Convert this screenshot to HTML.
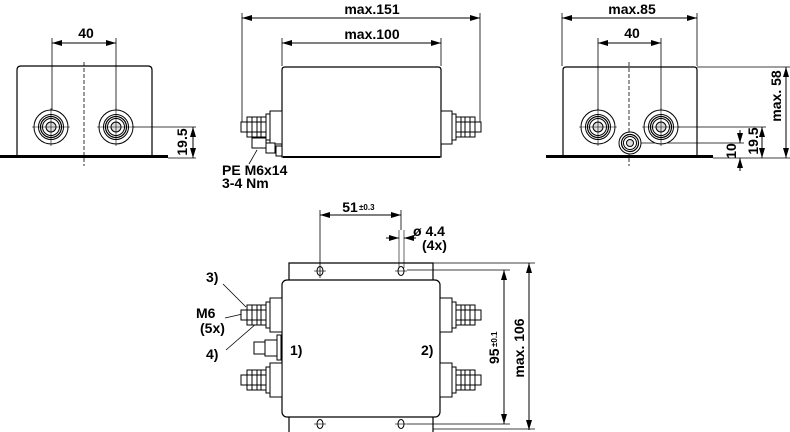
<!DOCTYPE html>
<html><head><meta charset="utf-8"><style>
html,body{margin:0;padding:0;background:#fff;}
svg{display:block;}
text{font-family:"Liberation Sans",Arial,sans-serif;font-weight:bold;fill:#000;}
</style></head><body>
<svg width="790" height="432" viewBox="0 0 790 432" xmlns="http://www.w3.org/2000/svg">
<defs>
<marker id="a" viewBox="0 0 10 6" refX="10" refY="3" markerWidth="10" markerHeight="6" orient="auto-start-reverse" markerUnits="userSpaceOnUse"><path d="M0,0 L10,3 L0,6 z" fill="#000"/></marker>
<g id="term">
<circle r="17" fill="#fff" stroke="#000" stroke-width="1"/>
<circle r="12.5" fill="none" stroke="#000" stroke-width="1"/>
<circle r="10.5" fill="none" stroke="#000" stroke-width="1.2"/>
<circle r="8.5" fill="none" stroke="#000" stroke-width="1"/>
<circle r="5" fill="#ddd" stroke="#000" stroke-width="1"/>
</g>
<g id="sterm">
<circle r="11" fill="#fff" stroke="#000" stroke-width="1"/>
<circle r="8.5" fill="none" stroke="#000" stroke-width="1.2"/>
<circle r="6.5" fill="none" stroke="#000" stroke-width="1"/>
<circle r="3.5" fill="#ddd" stroke="#000" stroke-width="1"/>
</g>
<g id="boltL" fill="#fff" stroke="#000" stroke-width="1">
<rect x="-4" y="-13" width="4" height="26"/>
<rect x="-23" y="-10" width="19" height="20"/>
<line x1="-18" y1="-10" x2="-18" y2="10"/><line x1="-13" y1="-10" x2="-13" y2="10"/><line x1="-9" y1="-10" x2="-9" y2="10"/>
<line x1="-23" y1="-5" x2="-4" y2="-5"/><line x1="-23" y1="5" x2="-4" y2="5"/>
<rect x="-29" y="-5" width="6" height="10"/>
</g>
</defs>

<g fill="none" stroke="#000" stroke-width="1">
<path d="M17,155 L17,70 Q17,66 21,66 L148,66 Q152,66 152,70 L152,155" stroke-width="1.2"/>
<line x1="0" y1="156.5" x2="168" y2="156.5" stroke-width="3"/>
<line x1="84" y1="62" x2="84" y2="166" stroke-dasharray="4,2" stroke-width="0.8"/>
<line x1="52" y1="38" x2="52" y2="127" stroke-width="0.8"/>
<line x1="116" y1="38" x2="116" y2="127" stroke-width="0.8"/>
<line x1="52" y1="43" x2="116" y2="43" marker-start="url(#a)" marker-end="url(#a)"/>
<line x1="116" y1="127" x2="196" y2="127" stroke-width="0.8"/>
<line x1="168" y1="158" x2="196" y2="158" stroke-width="0.8"/>
<line x1="193" y1="127" x2="193" y2="158" marker-start="url(#a)" marker-end="url(#a)"/>
</g>
<use href="#term" x="51" y="127"/>
<use href="#term" x="116" y="127"/>
<g stroke="#000" stroke-width="0.6"><line x1="51" y1="108" x2="51" y2="146"/><line x1="32" y1="127" x2="70" y2="127"/><line x1="116" y1="108" x2="116" y2="146"/><line x1="97" y1="127" x2="135" y2="127"/></g>
<text x="86" y="38" font-size="14" text-anchor="middle">40</text>
<text transform="translate(187,142) rotate(-90)" font-size="14" text-anchor="middle">19.5</text>

<g fill="none" stroke="#000" stroke-width="1">
<path d="M282,157 L282,70 Q282,67 285,67 L438,67 Q441,67 441,70 L441,157 Z" stroke-width="1.2" fill="#fff"/>
<line x1="283" y1="157" x2="440" y2="157" stroke-width="2"/>
<line x1="242" y1="13" x2="242" y2="125" stroke-width="0.8"/>
<line x1="480" y1="13" x2="480" y2="125" stroke-width="0.8"/>
<line x1="242" y1="18" x2="480" y2="18" marker-start="url(#a)" marker-end="url(#a)"/>
<line x1="282" y1="38" x2="282" y2="66" stroke-width="0.8"/>
<line x1="441" y1="38" x2="441" y2="66" stroke-width="0.8"/>
<line x1="282" y1="43" x2="441" y2="43" marker-start="url(#a)" marker-end="url(#a)"/>
<rect x="270" y="111" width="12" height="33" fill="#fff"/>
<rect x="441" y="111" width="11" height="33" fill="#fff"/>
<rect x="266" y="143" width="9" height="10" fill="#fff"/>
<rect x="276" y="146" width="6" height="10" fill="#fff"/>
<rect x="252" y="138" width="14" height="10" fill="#fff"/>
<line x1="257" y1="150" x2="249" y2="164" stroke-width="0.8"/>
</g>
<use href="#boltL" transform="translate(270,127)"/>
<use href="#boltL" transform="translate(452,127) scale(-1,1)"/>
<text x="372" y="14" font-size="14" text-anchor="middle">max.151</text>
<text x="372" y="39" font-size="14" text-anchor="middle">max.100</text>
<text x="222" y="175" font-size="14">PE M6x14</text>
<text x="222" y="188" font-size="14">3-4 Nm</text>

<g fill="none" stroke="#000" stroke-width="1">
<path d="M563,155 L563,70 Q563,67 566,67 L694,67 Q697,67 697,70 L697,155" stroke-width="1.2"/>
<line x1="546" y1="156.5" x2="713" y2="156.5" stroke-width="3"/>
<line x1="629" y1="62" x2="629" y2="166" stroke-dasharray="4,2" stroke-width="0.8"/>
<line x1="562" y1="13" x2="562" y2="66" stroke-width="0.8"/>
<line x1="697" y1="13" x2="697" y2="66" stroke-width="0.8"/>
<line x1="562" y1="18" x2="697" y2="18" marker-start="url(#a)" marker-end="url(#a)"/>
<line x1="598" y1="38" x2="598" y2="127" stroke-width="0.8"/>
<line x1="661" y1="38" x2="661" y2="127" stroke-width="0.8"/>
<line x1="598" y1="43" x2="661" y2="43" marker-start="url(#a)" marker-end="url(#a)"/>
<line x1="697" y1="67" x2="790" y2="67" stroke-width="0.8"/>
<line x1="661" y1="127" x2="766" y2="127" stroke-width="0.8"/>
<line x1="630" y1="143" x2="744" y2="143" stroke-width="0.8"/>
<line x1="713" y1="158" x2="790" y2="158" stroke-width="0.8"/>
<line x1="786" y1="67" x2="786" y2="158" marker-start="url(#a)" marker-end="url(#a)"/>
<line x1="762" y1="127" x2="762" y2="158" marker-start="url(#a)" marker-end="url(#a)"/>
<line x1="740" y1="130" x2="740" y2="143" marker-end="url(#a)"/>
<line x1="740" y1="171" x2="740" y2="158" marker-end="url(#a)"/>
</g>
<use href="#term" x="598" y="127"/>
<use href="#term" x="661" y="127"/>
<use href="#sterm" x="630" y="143"/>
<g stroke="#000" stroke-width="0.6"><line x1="598" y1="108" x2="598" y2="146"/><line x1="579" y1="127" x2="617" y2="127"/><line x1="661" y1="108" x2="661" y2="146"/><line x1="642" y1="127" x2="680" y2="127"/></g>
<text x="632" y="14" font-size="14" text-anchor="middle">max.85</text>
<text x="632" y="38" font-size="14" text-anchor="middle">40</text>
<text transform="translate(781,96) rotate(-90)" font-size="14" text-anchor="middle">max. 58</text>
<text transform="translate(758,141) rotate(-90)" font-size="14" text-anchor="middle">19.5</text>
<text transform="translate(736,151) rotate(-90)" font-size="14" text-anchor="middle">10</text>

<g fill="none" stroke="#000" stroke-width="1">
<path d="M289,280 L289,263 L433,263 L433,280" stroke-width="1.2"/>
<path d="M289,417 L289,432 M433,417 L433,432" stroke-width="1.2"/>
<rect x="282" y="280" width="158" height="137" rx="5" fill="#fff" stroke-width="1.2"/>
<ellipse cx="320" cy="271" rx="3" ry="4.5"/>
<ellipse cx="401" cy="271" rx="3" ry="4.5"/>
<ellipse cx="320" cy="424" rx="3" ry="4.5"/>
<ellipse cx="401" cy="424" rx="3" ry="4.5"/>
<line x1="314" y1="271" x2="326" y2="271" stroke-width="0.6"/>
<line x1="395" y1="271" x2="407" y2="271" stroke-width="0.6"/>
<line x1="314" y1="424" x2="326" y2="424" stroke-width="0.6"/>
<line x1="395" y1="424" x2="407" y2="424" stroke-width="0.6"/>
<line x1="320" y1="210" x2="320" y2="278" stroke-width="0.8"/>
<line x1="399" y1="230" x2="399" y2="268" stroke-width="0.6"/>
<line x1="404" y1="230" x2="404" y2="268" stroke-width="0.6"/>
<line x1="401" y1="210" x2="401" y2="230" stroke-width="0.8"/>
<line x1="320" y1="215" x2="401" y2="215" marker-start="url(#a)" marker-end="url(#a)"/>
<line x1="386" y1="238" x2="399" y2="238" marker-end="url(#a)"/>
<line x1="416" y1="238" x2="404" y2="238" marker-end="url(#a)"/>
<line x1="433" y1="263" x2="535" y2="263" stroke-width="0.8"/>
<line x1="407" y1="270" x2="510" y2="270" stroke-width="0.8"/>
<line x1="407" y1="424" x2="510" y2="424" stroke-width="0.8"/>
<line x1="433" y1="429" x2="535" y2="429" stroke-width="0.8"/>
<line x1="529" y1="263" x2="529" y2="430" marker-start="url(#a)" marker-end="url(#a)"/>
<line x1="504" y1="270" x2="504" y2="424" marker-start="url(#a)" marker-end="url(#a)"/>
<rect x="270" y="298" width="12" height="34" fill="#fff"/>
<rect x="270" y="363" width="12" height="34" fill="#fff"/>
<rect x="440" y="298" width="12" height="34" fill="#fff"/>
<rect x="440" y="363" width="12" height="34" fill="#fff"/>
<rect x="277" y="335" width="4" height="25" fill="#fff"/>
<rect x="265" y="340" width="12" height="16" fill="#fff"/>
<rect x="254" y="342" width="11" height="12" fill="#fff"/>
<line x1="223" y1="284" x2="246" y2="307" stroke-width="0.8"/>
<line x1="225" y1="318" x2="247" y2="313" stroke-width="0.8"/>
<line x1="226" y1="350" x2="257" y2="323" stroke-width="0.8"/>
</g>
<use href="#boltL" transform="translate(270,315)"/>
<use href="#boltL" transform="translate(270,380)"/>
<use href="#boltL" transform="translate(452,315) scale(-1,1)"/>
<use href="#boltL" transform="translate(452,380) scale(-1,1)"/>
<text x="350" y="212" font-size="14" text-anchor="middle">51</text>
<text x="359" y="210" font-size="8">±0.3</text>
<text x="413" y="236" font-size="14">ø 4.4</text>
<text x="422" y="250" font-size="14">(4x)</text>
<text x="206" y="282" font-size="14">3)</text>
<text x="196" y="318" font-size="14">M6</text>
<text x="200" y="333" font-size="14">(5x)</text>
<text x="206" y="359" font-size="14">4)</text>
<text x="290" y="355" font-size="14">1)</text>
<text x="421" y="355" font-size="14">2)</text>
<text transform="translate(524,348) rotate(-90)" font-size="14" text-anchor="middle">max. 106</text>
<text transform="translate(499,364) rotate(-90)" font-size="14">95</text>
<text transform="translate(497,347) rotate(-90)" font-size="8">±0.1</text>
</svg>
</body></html>
